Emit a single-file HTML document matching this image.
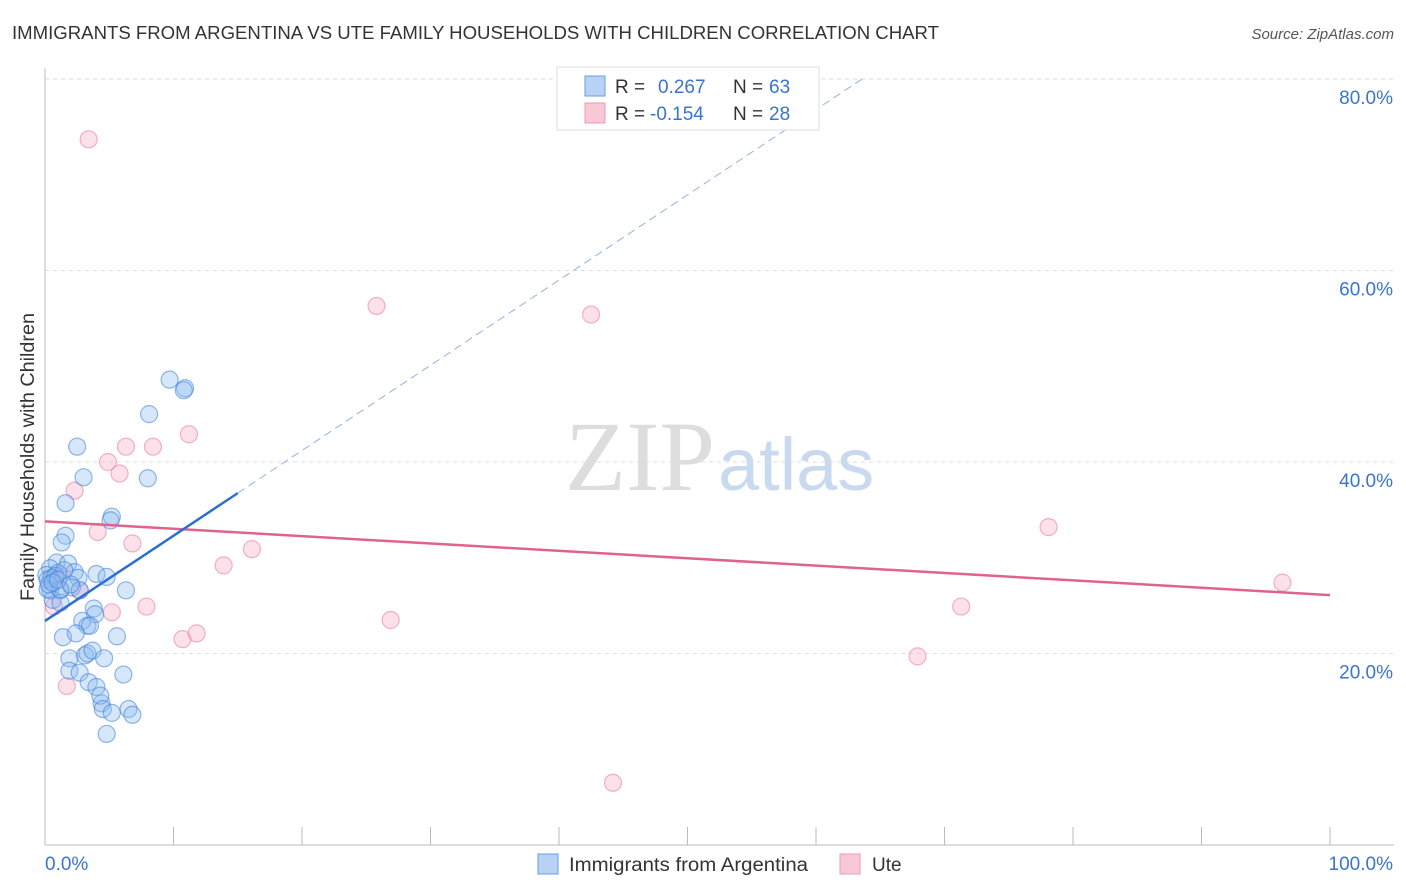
<!DOCTYPE html>
<html><head><meta charset="utf-8">
<style>
body{margin:0;background:#fff;font-family:"Liberation Sans",sans-serif;}
#wrap{position:relative;width:1406px;height:892px;overflow:hidden;}
</style></head>
<body>
<div id="wrap">
<svg id="svg" width="1406" height="892" xmlns="http://www.w3.org/2000/svg">
<text x="12" y="39" font-size="18" fill="#333" textLength="927" lengthAdjust="spacingAndGlyphs">IMMIGRANTS FROM ARGENTINA VS UTE FAMILY HOUSEHOLDS WITH CHILDREN CORRELATION CHART</text>
<text x="1394" y="39" font-size="15" fill="#555" font-style="italic" text-anchor="end">Source: ZipAtlas.com</text>
<text x="715" y="490" font-size="100" fill="#ddd" font-family="Liberation Serif" text-anchor="end">ZIP</text>
<text x="718" y="490" font-size="74" fill="#c9daf0">atlas</text>
<text transform="translate(34,457) rotate(-90)" font-size="19" fill="#333" text-anchor="middle" textLength="288" lengthAdjust="spacingAndGlyphs">Family Households with Children</text>
<g id="grid"></g><g id="marks"></g>
<g>
<rect x="557" y="67" width="262" height="63" fill="#fff" stroke="#ddd"/>
<rect x="585" y="76" width="20" height="20" fill="#b8d2f5" stroke="#6a9ee0"/>
<rect x="585" y="103" width="20" height="20" fill="#f9c8d6" stroke="#ee9ab4"/>
<text y="93" font-size="19" fill="#333"><tspan x="615">R =</tspan><tspan x="658" fill="#3a74d0">0.267</tspan><tspan x="733">N =</tspan><tspan x="769" fill="#3a74d0">63</tspan></text>
<text y="120" font-size="19" fill="#333"><tspan x="615">R =</tspan><tspan x="650" fill="#3a74d0">-0.154</tspan><tspan x="733">N =</tspan><tspan x="769" fill="#3a74d0">28</tspan></text>
</g>
<g>
<rect x="538" y="854" width="20" height="20" fill="#b8d2f5" stroke="#6a9ee0"/>
<text x="569" y="871" font-size="19" fill="#333" textLength="239" lengthAdjust="spacingAndGlyphs">Immigrants from Argentina</text>
<rect x="840" y="854" width="20" height="20" fill="#f9c8d6" stroke="#ee9ab4"/>
<text x="872" y="871" font-size="19" fill="#333">Ute</text>
</g>
</svg>
</div>
<script>
const yTicks=[20,40,60,80];
const xTickLabels=["0.0%","100.0%"];
const blueX=[9.7,10.9,10.8,8.1,2.5,8.0,3.0,1.6,5.2,5.1,1.6,1.3,0.9,1.8,0.4,1.0,2.3,2.6,4.0,4.8,0.4,1.2,2.1,6.3,0.6,1.2,2.7,3.8,3.9,2.9,3.3,3.5,5.6,1.4,2.4,3.1,3.3,3.7,1.9,4.6,1.9,2.7,3.4,4.0,4.4,6.1,4.3,4.5,5.2,6.5,6.8,4.8,0.1,0.2,0.5,0.8,0.2,1.2,1.5,0.3,0.6,1.0,2.0];
const blueY=[48.6,47.7,47.5,45.0,41.6,38.3,38.4,35.7,34.3,33.9,32.3,31.6,29.5,29.4,28.9,28.4,28.5,27.9,28.3,28.0,26.6,26.6,26.9,26.6,25.6,25.3,26.6,24.7,24.1,23.4,22.9,22.9,21.8,21.7,22.1,19.8,20.0,20.3,19.5,19.5,18.2,18.0,17.0,16.5,14.8,17.8,15.6,14.2,13.8,14.2,13.6,11.6,28.2,27.7,27.9,28.1,26.7,26.7,28.7,27.2,27.4,27.7,27.2];
const pinkX=[3.4,25.8,42.5,11.2,6.3,8.4,4.9,5.8,2.3,4.1,6.8,16.1,13.9,78.1,96.3,71.3,26.9,7.9,5.2,10.7,11.8,67.9,1.7,44.2,0.7,2.7,0.8,1.2];
const pinkY=[73.7,56.3,55.4,42.9,41.6,41.6,40.0,38.8,37.0,32.7,31.5,30.9,29.2,33.2,27.4,24.9,23.5,24.9,24.3,21.5,22.1,19.7,16.6,6.5,24.9,26.6,27.9,28.2];
const blueTrend=[23.4,0.89];
const pinkTrend=[33.8,26.1];
const L=45,R=1330,T=79,B=845;
const xs=v=>L+(R-L)*v/100, ys=v=>B-(B-T)*v/80;
const NS="http://www.w3.org/2000/svg";
const svg=document.getElementById('svg'),grid=document.getElementById('grid'),marks=document.getElementById('marks');
function mk(tag,attrs,parent){const e=document.createElementNS(NS,tag);for(const k in attrs)e.setAttribute(k,attrs[k]);parent.appendChild(e);return e;}
let e=mk('line',{x1:L,y1:68,x2:L,y2:B,stroke:'#bbb'},grid);


e=mk('line',{x1:L,y1:B,x2:1394,y2:B,stroke:'#bbb'},grid);


yTicks.forEach(t=>{
 const g=mk('line',{x1:L,y1:ys(t),x2:1394,y2:ys(t),stroke:'#ddd','stroke-dasharray':'4,4'},grid);
 
 
 const tx=mk('text',{x:1393,y:ys(t)+25,'font-size':19,fill:'#3a74d0','text-anchor':'end'},grid);
 tx.textContent=t.toFixed(1)+'%';
 
 
});
for(let i=0;i<=10;i++){
 const tk=mk('line',{x1:xs(i*10),y1:827,x2:xs(i*10),y2:B,stroke:'#bbb'},grid);
 
 
}
[[45,'start',0],[1393,'end',1]].forEach(([x,a,i])=>{
 const tx=mk('text',{x:x,y:870,'font-size':19,fill:'#3a74d0','text-anchor':a},grid);
 tx.textContent=xTickLabels[i];
 
 
});
pinkX.forEach((x,i)=>{
 const c=mk('circle',{cx:xs(x),cy:ys(pinkY[i]),r:8.5,fill:'rgba(247,170,195,0.35)',stroke:'rgba(232,120,155,0.55)','stroke-width':1.2},marks);
 
 
});
blueX.forEach((x,i)=>{
 const c=mk('circle',{cx:xs(x),cy:ys(blueY[i]),r:8.5,fill:'rgba(140,185,240,0.35)',stroke:'rgba(60,125,215,0.55)','stroke-width':1.2},marks);
 
 
});
e=mk('line',{x1:xs(0),y1:ys(pinkTrend[0]),x2:xs(100),y2:ys(pinkTrend[1]),stroke:'#e0628e','stroke-width':2.5},marks);


const bx=15, bxEnd=(80-blueTrend[0])/blueTrend[1];
e=mk('line',{x1:xs(0),y1:ys(blueTrend[0]),x2:xs(bx),y2:ys(blueTrend[0]+blueTrend[1]*bx),stroke:'#2d6fd0','stroke-width':2.5},marks);


e=mk('line',{x1:xs(bx),y1:ys(blueTrend[0]+blueTrend[1]*bx),x2:xs(bxEnd),y2:ys(80),stroke:'#8fb3e6','stroke-width':1,'stroke-dasharray':'8,5'},marks);


</script>
</body></html>
